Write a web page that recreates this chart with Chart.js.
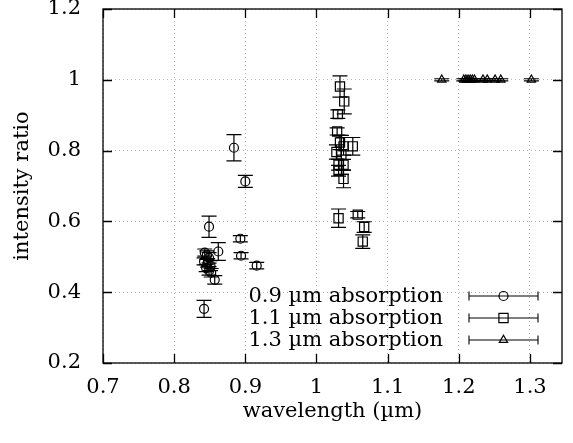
<!DOCTYPE html>
<html><head><meta charset="utf-8">
<script src="https://cdn.jsdelivr.net/npm/chart.js@4/dist/chart.umd.min.js"></script>
<style>html,body{margin:0;padding:0;background:#fff}canvas{display:block}</style>
</head><body>
<canvas id="c" width="573" height="443"></canvas>
<script>
// ---- data ----
const xTicks = [0.7, 0.8, 0.9, 1.0, 1.1, 1.2, 1.3];
const yTicks = [0.2, 0.4, 0.6, 0.8, 1.0, 1.2];

const seriesNames = ["0.9 µm absorption", "1.1 µm absorption", "1.3 µm absorption"];

const abs09X = [0.884, 0.900, 0.849, 0.862, 0.893, 0.894, 0.916, 0.842, 0.843, 0.846, 0.849, 0.842, 0.847, 0.851, 0.845, 0.849, 0.852, 0.857];
const abs09Y = [0.808, 0.713, 0.585, 0.515, 0.551, 0.503, 0.475, 0.353, 0.512, 0.505, 0.497, 0.487, 0.483, 0.475, 0.468, 0.460, 0.455, 0.435];
const abs09E = [0.037, 0.017, 0.030, 0.025, 0.009, 0.009, 0.009, 0.024, 0.010, 0.012, 0.015, 0.010, 0.012, 0.014, 0.010, 0.012, 0.012, 0.012];

const abs11X = [1.033, 1.039, 1.030, 1.029, 1.033, 1.038, 1.051, 1.028, 1.035, 1.031, 1.038, 1.031, 1.038, 1.031, 1.058, 1.067, 1.065];
const abs11Y = [0.981, 0.939, 0.903, 0.854, 0.823, 0.812, 0.812, 0.796, 0.788, 0.760, 0.760, 0.743, 0.720, 0.609, 0.619, 0.584, 0.543];
const abs11E = [0.030, 0.035, 0.012, 0.010, 0.020, 0.025, 0.025, 0.020, 0.055, 0.015, 0.015, 0.015, 0.025, 0.026, 0.009, 0.015, 0.019];

const abs13X = [1.176, 1.207, 1.210, 1.213, 1.216, 1.219, 1.222, 1.234, 1.240, 1.251, 1.259, 1.302];
const abs13Y = [1.0, 1.0, 1.0, 1.0, 1.0, 1.0, 1.0, 1.0, 1.0, 1.0, 1.0, 1.0];
const abs13E = [0.003, 0.003, 0.003, 0.003, 0.003, 0.003, 0.003, 0.003, 0.003, 0.003, 0.003, 0.003];

// ---- build ----
const FONT = "'DejaVu Serif', serif";
const FS = 21;
const mk = (xs, ys) => xs.map((x, i) => ({x: x, y: ys[i]}));
const errs = [abs09E, abs11E, abs13E];
const styles = [
  {pointStyle: 'circle', pointRadius: 4.5},
  {pointStyle: 'rect', pointRadius: 6.5},
  {pointStyle: 'triangle', pointRadius: 4.8}
];
const datasets = [mk(abs09X, abs09Y), mk(abs11X, abs11Y), mk(abs13X, abs13Y)].map((d, i) => Object.assign({
  label: seriesNames[i],
  data: d,
  showLine: false,
  borderColor: '#000',
  backgroundColor: 'rgba(0,0,0,0)',
  pointBorderColor: '#000',
  pointBackgroundColor: 'rgba(0,0,0,0)',
  pointBorderWidth: 1.2,
  pointHoverRadius: 5
}, styles[i]));

const CAP = 7.5;

const errorBars = {
  id: 'errorBars',
  afterDatasetsDraw(chart) {
    const ctx = chart.ctx, xs = chart.scales.x, ys = chart.scales.y;
    ctx.save();
    ctx.strokeStyle = '#000';
    ctx.lineWidth = 1.2;
    chart.data.datasets.forEach((ds, di) => {
      ds.data.forEach((p, i) => {
        const e = errs[di][i];
        const px = xs.getPixelForValue(p.x);
        const y1 = ys.getPixelForValue(p.y + e);
        const y2 = ys.getPixelForValue(p.y - e);
        ctx.beginPath();
        ctx.moveTo(px, y1); ctx.lineTo(px, y2);
        ctx.moveTo(px - CAP, y1); ctx.lineTo(px + CAP, y1);
        ctx.moveTo(px - CAP, y2); ctx.lineTo(px + CAP, y2);
        ctx.stroke();
      });
    });
    ctx.restore();
  }
};

function drawMarker(ctx, style, x, y, r) {
  ctx.beginPath();
  if (style === 'circle') {
    ctx.arc(x, y, r, 0, Math.PI * 2);
  } else if (style === 'rect') {
    const s = Math.SQRT1_2 * r;
    ctx.rect(x - s, y - s, 2 * s, 2 * s);
  } else {
    ctx.moveTo(x, y - r);
    ctx.lineTo(x + r * Math.sin(Math.PI / 3), y + r * 0.5);
    ctx.lineTo(x - r * Math.sin(Math.PI / 3), y + r * 0.5);
    ctx.closePath();
  }
  ctx.stroke();
}

const frame = {
  id: 'frame',
  afterDraw(chart) {
    const ctx = chart.ctx, a = chart.chartArea, xs = chart.scales.x, ys = chart.scales.y;
    ctx.save();
    ctx.strokeStyle = '#000';
    ctx.lineWidth = 1.3;
    ctx.strokeRect(a.left, a.top, a.right - a.left, a.bottom - a.top);
    const T = 9;
    ctx.beginPath();
    xTicks.forEach(v => {
      const px = Math.round(xs.getPixelForValue(v)) + 0.5;
      ctx.moveTo(px, a.bottom); ctx.lineTo(px, a.bottom - T);
      ctx.moveTo(px, a.top); ctx.lineTo(px, a.top + T);
    });
    yTicks.forEach(v => {
      const py = Math.round(ys.getPixelForValue(v)) + 0.5;
      ctx.moveTo(a.left, py); ctx.lineTo(a.left + T, py);
      ctx.moveTo(a.right, py); ctx.lineTo(a.right - T, py);
    });
    ctx.stroke();

    // key
    ctx.font = FS + 'px ' + FONT;
    ctx.fillStyle = '#000';
    ctx.textAlign = 'right';
    ctx.textBaseline = 'middle';
    const rows = [296, 318, 340];
    chart.data.datasets.forEach((ds, i) => {
      const ry = rows[i];
      ctx.fillText(ds.label, 443, ry + 1);
      ctx.lineWidth = 1.1;
      ctx.beginPath();
      ctx.moveTo(469, ry); ctx.lineTo(538, ry);
      ctx.moveTo(469, ry - 4.5); ctx.lineTo(469, ry + 4.5);
      ctx.moveTo(538, ry - 4.5); ctx.lineTo(538, ry + 4.5);
      ctx.stroke();
      ctx.lineWidth = 1.2;
      drawMarker(ctx, styles[i].pointStyle, 503.5, ry, styles[i].pointRadius);
    });
    ctx.restore();
  }
};

new Chart(document.getElementById('c'), {
  type: 'scatter',
  data: {datasets: datasets},
  options: {
    responsive: false,
    animation: false,
    devicePixelRatio: 1,
    layout: {padding: {left: 0, right: 11, top: 9, bottom: 0}},
    plugins: {legend: {display: false}, tooltip: {enabled: false}},
    scales: {
      x: {
        type: 'linear',
        min: 0.7, max: 1.345,
        afterBuildTicks: s => { s.ticks = xTicks.map(v => ({value: v})); },
        afterFit: s => { s.height = 80; s.paddingLeft = 0; s.paddingRight = 0; },
        ticks: {
          font: {family: FONT, size: FS},
          color: '#000',
          padding: 12,
          maxRotation: 0,
          callback: v => String(Math.round(v * 10) / 10)
        },
        grid: {color: '#b8b8b8', lineWidth: 1, drawTicks: false},
        border: {display: false, dash: [1, 3]},
        title: {display: true, text: 'wavelength (µm)', font: {family: FONT, size: FS}, color: '#000', padding: {top: 19, bottom: 19}}
      },
      y: {
        type: 'linear',
        min: 0.2, max: 1.2,
        afterBuildTicks: s => { s.ticks = yTicks.map(v => ({value: v})); },
        afterFit: s => { s.width = 103; s.paddingTop = 0; s.paddingBottom = 0; },
        ticks: {
          font: {family: FONT, size: FS},
          color: '#000',
          padding: 22,
          callback: v => String(Math.round(v * 10) / 10)
        },
        grid: {color: '#b8b8b8', lineWidth: 1, drawTicks: false},
        border: {display: false, dash: [1, 3]},
        title: {display: true, text: 'intensity ratio', font: {family: FONT, size: FS}, color: '#000', padding: {top: 10, bottom: 0}}
      }
    }
  },
  plugins: [errorBars, frame]
});
</script>
</body></html>
